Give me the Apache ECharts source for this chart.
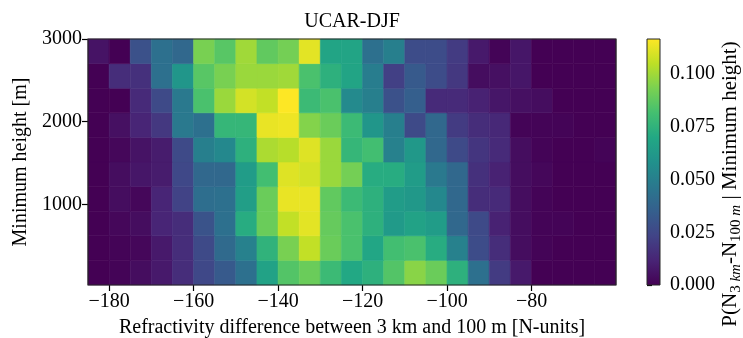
<!DOCTYPE html>
<html>
<head>
<meta charset="utf-8">
<script src="https://cdn.jsdelivr.net/npm/echarts@6/dist/echarts.min.js"></script>
<style>
  html, body { margin: 0; padding: 0; background: #fff; }
  #main { width: 743px; height: 338px; }
</style>
</head>
<body>
<div id="main"></div>
<script>
// bin edges of the 2D histogram
var refrEdges = [-185, -180, -175, -170, -165, -160, -155, -150, -145, -140, -135, -130, -125,
                 -120, -115, -110, -105, -100, -95, -90, -85, -80, -75, -70, -65, -60];
var heightEdges = [25, 322.5, 620, 917.5, 1215, 1512.5, 1810, 2107.5, 2405, 2702.5, 3000];

// P(dN | min height), one row per height bin, lowest first
var prob0 = [0.000, 0.001, 0.004, 0.008, 0.015, 0.025, 0.033, 0.043, 0.067, 0.085, 0.090, 0.079, 0.070, 0.074, 0.085, 0.096, 0.090, 0.074, 0.043, 0.020, 0.008, 0, 0, 0, 0];
var prob1 = [0.000, 0.001, 0.002, 0.008, 0.015, 0.026, 0.040, 0.051, 0.075, 0.093, 0.106, 0.090, 0.083, 0.069, 0.081, 0.083, 0.072, 0.051, 0.027, 0.015, 0.004, 0.001, 0, 0, 0];
var prob2 = [0.000, 0.002, 0.004, 0.012, 0.015, 0.030, 0.043, 0.072, 0.090, 0.106, 0.112, 0.089, 0.083, 0.074, 0.063, 0.067, 0.064, 0.039, 0.026, 0.011, 0.004, 0.001, 0.001, 0, 0];
var prob3 = [0.000, 0.004, 0.002, 0.012, 0.023, 0.042, 0.043, 0.065, 0.090, 0.113, 0.113, 0.088, 0.079, 0.074, 0.064, 0.062, 0.054, 0.039, 0.015, 0.014, 0.004, 0.001, 0, 0, 0];
var prob4 = [0.000, 0.004, 0.007, 0.009, 0.025, 0.039, 0.039, 0.064, 0.081, 0.111, 0.109, 0.099, 0.092, 0.072, 0.072, 0.064, 0.047, 0.039, 0.016, 0.011, 0.004, 0.002, 0, 0, 0];
var prob5 = [0.000, 0.002, 0.006, 0.009, 0.026, 0.050, 0.054, 0.074, 0.102, 0.104, 0.111, 0.099, 0.077, 0.081, 0.051, 0.062, 0.039, 0.026, 0.018, 0.014, 0.004, 0.001, 0, 0, 0.001];
var prob6 = [0.000, 0.005, 0.012, 0.019, 0.047, 0.043, 0.077, 0.077, 0.113, 0.114, 0.095, 0.090, 0.079, 0.061, 0.050, 0.026, 0.039, 0.020, 0.015, 0.013, 0.001, 0.001, 0.001, 0, 0];
var prob7 = [0.000, 0.000, 0.014, 0.026, 0.047, 0.083, 0.099, 0.109, 0.106, 0.1167, 0.079, 0.083, 0.055, 0.050, 0.029, 0.035, 0.014, 0.014, 0.011, 0.007, 0.005, 0.004, 0, 0, 0];
var prob8 = [0.000, 0.015, 0.016, 0.043, 0.061, 0.086, 0.093, 0.099, 0.099, 0.100, 0.083, 0.074, 0.068, 0.049, 0.022, 0.033, 0.027, 0.019, 0.004, 0.005, 0.007, 0, 0, 0, 0];
var prob9 = [0.006, 0.000, 0.029, 0.043, 0.039, 0.093, 0.086, 0.100, 0.088, 0.092, 0.112, 0.068, 0.068, 0.043, 0.050, 0.027, 0.027, 0.020, 0.008, 0.001, 0.007, 0, 0, 0, 0];
var probRows = [prob0, prob1, prob2, prob3, prob4, prob5, prob6, prob7, prob8, prob9];

var xTicks = [-180, -160, -140, -120, -100, -80];
var yTicks = [1000, 2000, 3000];
var cbarTicks = [0, 0.025, 0.05, 0.075, 0.1];
var cbarMax = 0.1167;

var viridis = ['#440154', '#482475', '#414487', '#355f8d', '#2a788e', '#21918c',
               '#22a884', '#44bf70', '#7ad151', '#bddf26', '#fde725'];

var cells = [];
probRows.forEach(function (row, r) {
    row.forEach(function (v, c) {
        cells.push([refrEdges[c], refrEdges[c + 1], heightEdges[r], heightEdges[r + 1], v]);
    });
});

var FONT = 'Liberation Serif';
var minus = function (v) { return v < 0 ? '\u2212' + Math.abs(v) : String(v); };

function renderCell(params, api) {
    var p0 = api.coord([api.value(0), api.value(3)]);
    var p1 = api.coord([api.value(1), api.value(2)]);
    var col = api.visual('color');
    return {
        type: 'rect',
        shape: { x: p0[0], y: p0[1], width: p1[0] - p0[0], height: p1[1] - p0[1] },
        style: { fill: col, stroke: col, lineWidth: 0.6 }
    };
}

// colour bar: one rect spanning the colour axis, filled with the viridis ramp
function renderBar(params, api) {
    var p0 = api.coord([api.value(0), api.value(3)]);
    var p1 = api.coord([api.value(1), api.value(2)]);
    var stops = viridis.map(function (c, i) { return { offset: i / (viridis.length - 1), color: c }; });
    return {
        type: 'rect',
        shape: { x: p0[0], y: p0[1], width: p1[0] - p0[0], height: p1[1] - p0[1] },
        style: { fill: new echarts.graphic.LinearGradient(0, 1, 0, 0, stops) }
    };
}

var chart = echarts.init(document.getElementById('main'), null, { renderer: 'canvas' });

var option = {
    backgroundColor: '#fff',
    animation: false,
    textStyle: { fontFamily: FONT },
    grid: [
        { left: 88, top: 39, width: 528, height: 246, show: true, z: 5,
          outerBoundsMode: 'none', containLabel: false,
          borderColor: '#262626', borderWidth: 1.2, backgroundColor: 'transparent' },
        { left: 647, top: 39, width: 13, height: 246, show: true, z: 6,
          outerBoundsMode: 'none', containLabel: false,
          borderColor: '#262626', borderWidth: 1, backgroundColor: 'transparent' }
    ],
    xAxis: [
        {
            type: 'value', gridIndex: 0, min: -185, max: -60, position: 'bottom',
            name: 'Refractivity difference between 3 km and 100 m [N-units]',
            nameLocation: 'middle', nameGap: 33,
            nameTextStyle: { fontFamily: FONT, fontSize: 20, color: '#000' },
            axisLine: { show: false },
            axisTick: { show: true, length: 6, customValues: xTicks, lineStyle: { color: '#000', width: 1.2 } },
            axisLabel: { customValues: xTicks, formatter: minus, fontFamily: FONT, fontSize: 20, color: '#000', margin: 7 },
            splitLine: { show: false }
        },
        {
            type: 'value', gridIndex: 0, min: -185, max: -60, position: 'top',
            name: 'UCAR-DJF', nameLocation: 'middle', nameGap: 7,
            nameTextStyle: { fontFamily: FONT, fontSize: 20, color: '#000' },
            axisLine: { show: false }, axisTick: { show: false },
            axisLabel: { show: false }, splitLine: { show: false }
        },
        {
            type: 'value', gridIndex: 1, min: 0, max: 1, show: false
        }
    ],
    yAxis: [
        {
            type: 'value', gridIndex: 0, min: 25, max: 3000,
            name: 'Minimum height [m]', nameLocation: 'middle', nameGap: 57, nameRotate: 90,
            nameTextStyle: { fontFamily: FONT, fontSize: 20, color: '#000' },
            axisLine: { show: false },
            axisTick: { show: true, length: 6, customValues: yTicks, lineStyle: { color: '#000', width: 1.2 } },
            axisLabel: { customValues: yTicks, formatter: function (v) { return String(v); },
                         fontFamily: FONT, fontSize: 20, color: '#000', margin: 6 },
            splitLine: { show: false }
        },
        {
            type: 'value', gridIndex: 1, min: 0, max: cbarMax, position: 'right',
            name: '{n|P(N}{s|3 }{si|km}{n|-N}{s|100 }{si|m}{n| | Minimum height)}',
            nameLocation: 'middle', nameGap: 57, nameRotate: 90,
            nameTextStyle: {
                fontFamily: FONT, fontSize: 21, color: '#000', padding: [0, 44, 0, 0],
                rich: {
                    n: { fontFamily: FONT, fontSize: 21, color: '#000', lineHeight: 27, verticalAlign: 'middle' },
                    s: { fontFamily: FONT, fontSize: 15, color: '#000', lineHeight: 17, verticalAlign: 'bottom' },
                    si: { fontFamily: FONT, fontSize: 15, fontStyle: 'italic', color: '#000', lineHeight: 17, verticalAlign: 'bottom' }
                }
            },
            axisLine: { show: false },
            axisTick: { show: true, length: 5, customValues: cbarTicks, lineStyle: { color: '#000', width: 1.2 } },
            axisLabel: { customValues: cbarTicks, formatter: function (v) { return v.toFixed(3); },
                         fontFamily: FONT, fontSize: 20, color: '#000', margin: 10 },
            splitLine: { show: false }
        }
    ],
    visualMap: {
        type: 'continuous', min: 0, max: cbarMax, dimension: 4, seriesIndex: 0,
        show: false, inRange: { color: viridis }
    },
    series: [
        {
            type: 'custom', xAxisIndex: 0, yAxisIndex: 0,
            renderItem: renderCell,
            encode: { x: [0, 1], y: [2, 3] },
            data: cells,
            silent: true
        },
        {
            type: 'custom', xAxisIndex: 2, yAxisIndex: 1,
            renderItem: renderBar,
            encode: { x: [0, 1], y: [2, 3] },
            data: [[0, 1, 0, cbarMax]],
            silent: true
        }
    ]
};

chart.setOption(option);
</script>
</body>
</html>
